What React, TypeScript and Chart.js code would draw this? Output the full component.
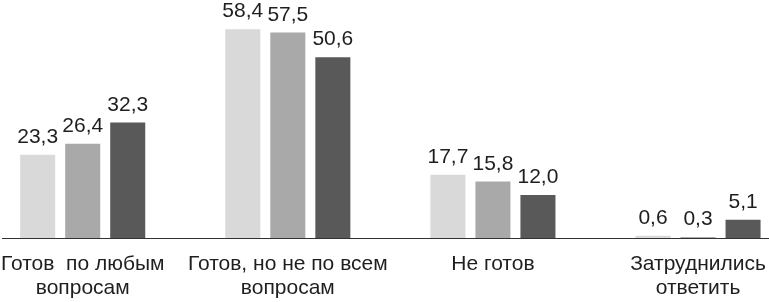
import React, { useEffect, useRef } from "react";
import { Chart, registerables } from "chart.js";

Chart.register(...registerables);

const categories: string[][] = [
  ["Готов  по любым", "вопросам"],
  ["Готов, но не по всем", "вопросам"],
  ["Не готов"],
  ["Затруднились", "ответить"],
];
const series1: number[] = [23.3, 58.4, 17.7, 0.6];
const series2: number[] = [26.4, 57.5, 15.8, 0.3];
const series3: number[] = [32.3, 50.6, 12.0, 5.1];
const seriesNames: string[] = ["Серия 1", "Серия 2", "Серия 3"];
const colors: string[] = ["#d9d9d9", "#a9a9a9", "#595959"];

const TEXT = "#1e1e1e";
const FONT_FAMILY = '"Liberation Sans", Arial, sans-serif';

const valueLabels = {
  id: "valueLabels",
  afterDatasetsDraw(chart: any) {
    const ctx = chart.ctx;
    const all = [series1, series2, series3];
    ctx.save();
    ctx.font = `21px ${FONT_FAMILY}`;
    ctx.fillStyle = TEXT;
    ctx.textAlign = "center";
    ctx.textBaseline = "alphabetic";
    chart.data.datasets.forEach((_ds: any, di: number) => {
      const meta = chart.getDatasetMeta(di);
      meta.data.forEach((bar: any, i: number) => {
        const v = all[di][i];
        ctx.fillText(v.toFixed(1).replace(".", ","), bar.x, bar.y - 12);
      });
    });
    ctx.restore();
  },
};

export default function App() {
  const ref = useRef<HTMLCanvasElement | null>(null);

  useEffect(() => {
    if (!ref.current) return;
    const all = [series1, series2, series3];
    const chart = new Chart(ref.current, {
      type: "bar",
      data: {
        datasets: all.map((s, di) => ({
          label: seriesNames[di],
          data: s.map((v, i) => ({ x: i, y: v })),
          backgroundColor: colors[di],
          borderWidth: 0,
          categoryPercentage: 0.6585,
          barPercentage: 0.778,
        })),
      },
      options: {
        animation: false,
        responsive: false,
        devicePixelRatio: 1,
        layout: { padding: { left: 2, right: 0, top: 0, bottom: 0 } },
        plugins: {
          legend: { display: false },
          tooltip: { enabled: false },
        },
        scales: {
          x: {
            type: "linear",
            offset: false,
            min: -0.3935,
            max: 3.346,
            grid: { display: false, drawTicks: true, tickLength: 6 },
            border: { display: true, color: "#333333", width: 1 },
            afterBuildTicks: (scale: any) => {
              scale.ticks = categories.map((_c, i) => ({ value: i }));
            },
            afterFit: (scale: any) => {
              scale.height = 64;
              scale.paddingLeft = 0;
              scale.paddingRight = 0;
            },
            ticks: {
              autoSkip: false,
              maxRotation: 0,
              minRotation: 0,
              padding: 8,
              color: TEXT,
              font: { family: FONT_FAMILY, size: 21, lineHeight: 24 / 21 },
              callback: (value: any) => {
                const i = Math.round(Number(value));
                return categories[i] ?? "";
              },
            },
          },
          y: {
            display: false,
            min: 0,
            max: 66.6,
          },
        },
      },
      plugins: [valueLabels],
    });
    return () => chart.destroy();
  }, []);

  return (
    <div style={{ position: "absolute", left: 0, top: 0, width: 769, height: 302, background: "#ffffff" }}>
      <canvas ref={ref} width={769} height={302} />
    </div>
  );
}
